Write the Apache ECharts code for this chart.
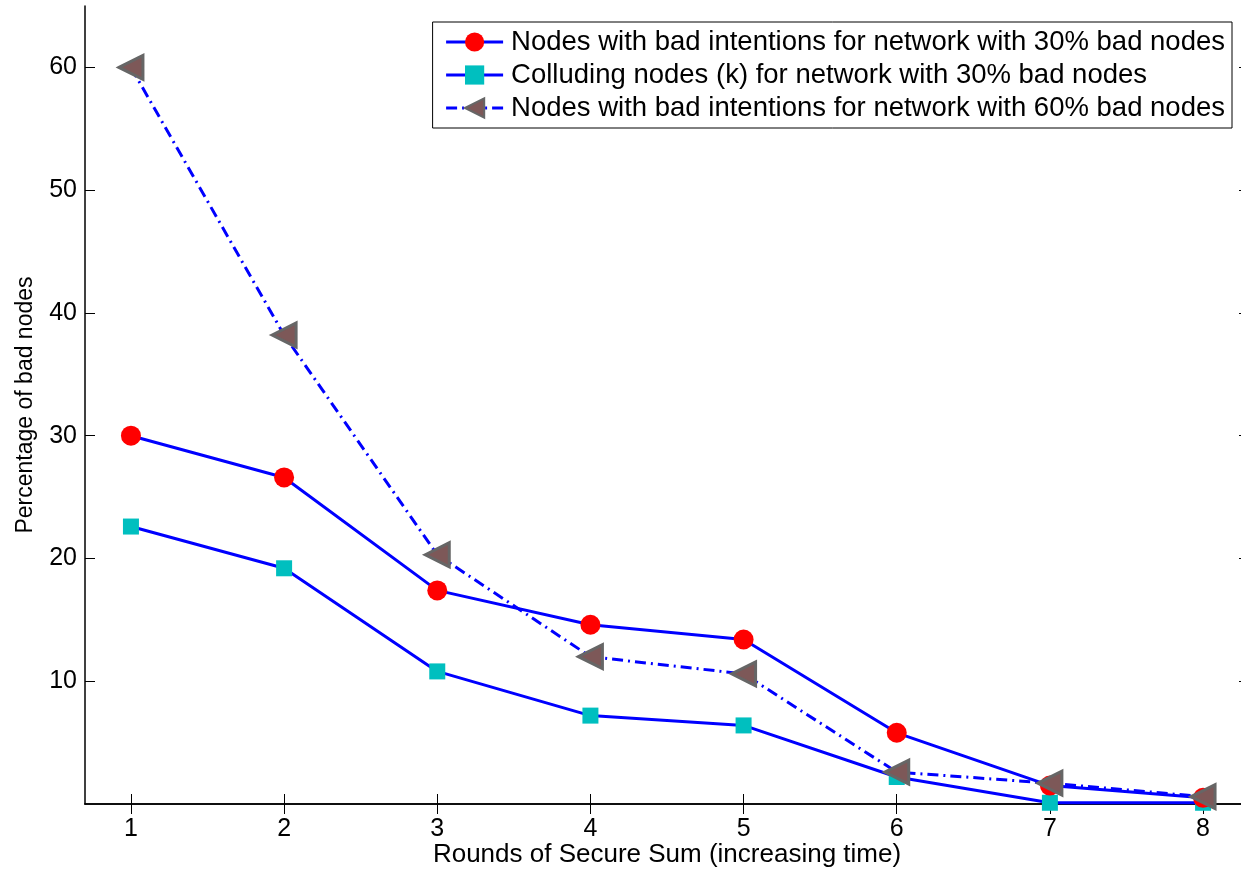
<!DOCTYPE html>
<html>
<head>
<meta charset="utf-8">
<style>
  html, body { margin: 0; padding: 0; background: #fff; overflow: hidden; }
  #main { width: 1249px; height: 870px; }
</style>
<script src="https://cdn.jsdelivr.net/npm/echarts@6/dist/echarts.min.js"></script>
</head>
<body>
<div id="main"></div>
<script>
const rounds = [1, 2, 3, 4, 5, 6, 7, 8];
const yTicks = [10, 20, 30, 40, 50, 60];
const bad30 = [30.0, 26.6, 17.4, 14.6, 13.4, 5.8, 1.5, 0.5];
const colluding30 = [22.6, 19.2, 10.8, 7.2, 6.4, 2.2, 0.1, 0.1];
const bad60 = [60.0, 38.2, 20.3, 12.0, 10.6, 2.6, 1.7, 0.6];

const names = [
  "Nodes with bad intentions for network with 30% bad nodes",
  "Colluding nodes (k) for network with 30% bad nodes",
  "Nodes with bad intentions for network with 60% bad nodes",
];

const font = "Liberation Sans, Arial, sans-serif";

function pairs(values) {
  return rounds.map((r, i) => [r, values[i]]);
}

const chart = echarts.init(document.getElementById("main"));

// the figure is cropped on the right, so the right frame sits just off the page
const axisLine = { lineStyle: { color: "#000", width: 1.5 } };
const tick = (values) => ({ inside: true, length: 10, customValues: values, lineStyle: { color: "#000" } });

chart.setOption({
  animation: false,
  backgroundColor: "#fff",
  grid: { left: 85, top: 6, right: 0, bottom: 66, outerBoundsMode: "none" },
  legend: {
    right: 17,
    top: 22,
    orient: "vertical",
    backgroundColor: "#fff",
    borderColor: "#000",
    borderWidth: 1,
    padding: [6, 7, 6, 12],
    itemGap: 5,
    itemWidth: 57,
    itemHeight: 24,
    lineStyle: { width: 3 },
    textStyle: { fontFamily: font, fontSize: 27.5, color: "#000", padding: [0, 0, 0, 3] },
    data: names,
  },
  xAxis: [
    {
      type: "value",
      min: 0.7,
      max: 8.3,
      name: "Rounds of Secure Sum (increasing time)",
      nameLocation: "middle",
      nameGap: 38,
      nameMoveOverlap: false,
      nameTextStyle: { fontFamily: font, fontSize: 26, color: "#000" },
      axisLine: axisLine,
      axisTick: tick(rounds),
      axisLabel: { customValues: rounds, fontFamily: font, fontSize: 25, color: "#000", margin: 13 },
      splitLine: { show: false },
    },
    {
      type: "value",
      position: "top",
      min: 0.7,
      max: 8.3,
      axisLine: axisLine,
      axisTick: tick(rounds),
      axisLabel: { show: false },
      splitLine: { show: false },
    },
  ],
  yAxis: [
    {
      type: "value",
      min: 0,
      max: 65,
      name: "Percentage of bad nodes",
      nameLocation: "middle",
      nameGap: 48,
      nameMoveOverlap: false,
      nameTextStyle: { fontFamily: font, fontSize: 23, color: "#000" },
      axisLine: axisLine,
      axisTick: tick(yTicks),
      axisLabel: { customValues: yTicks, fontFamily: font, fontSize: 25, color: "#000", margin: 8 },
      splitLine: { show: false },
    },
    {
      type: "value",
      position: "right",
      min: 0,
      max: 65,
      axisLine: axisLine,
      axisTick: tick(yTicks),
      axisLabel: { show: false },
      splitLine: { show: false },
    },
  ],
  series: [
    {
      name: names[1],
      type: "line",
      data: pairs(colluding30),
      symbol: "rect",
      symbolSize: 16,
      lineStyle: { color: "#0000ff", width: 3 },
      itemStyle: { color: "#00bfbf" },
      z: 2,
    },
    {
      name: names[0],
      type: "line",
      data: pairs(bad30),
      symbol: "circle",
      symbolSize: 20,
      lineStyle: { color: "#0000ff", width: 3 },
      itemStyle: { color: "#ff0000" },
      z: 3,
    },
    {
      name: names[2],
      type: "line",
      data: pairs(bad60),
      symbol: "triangle",
      symbolRotate: 90,
      symbolSize: 24,
      lineStyle: { color: "#0000ff", width: 3, type: [11, 5, 2, 5] },
      itemStyle: { color: "#7d5858", borderColor: "#666666", borderWidth: 3 },
      z: 4,
    },
  ],
});
</script>
</body>
</html>
